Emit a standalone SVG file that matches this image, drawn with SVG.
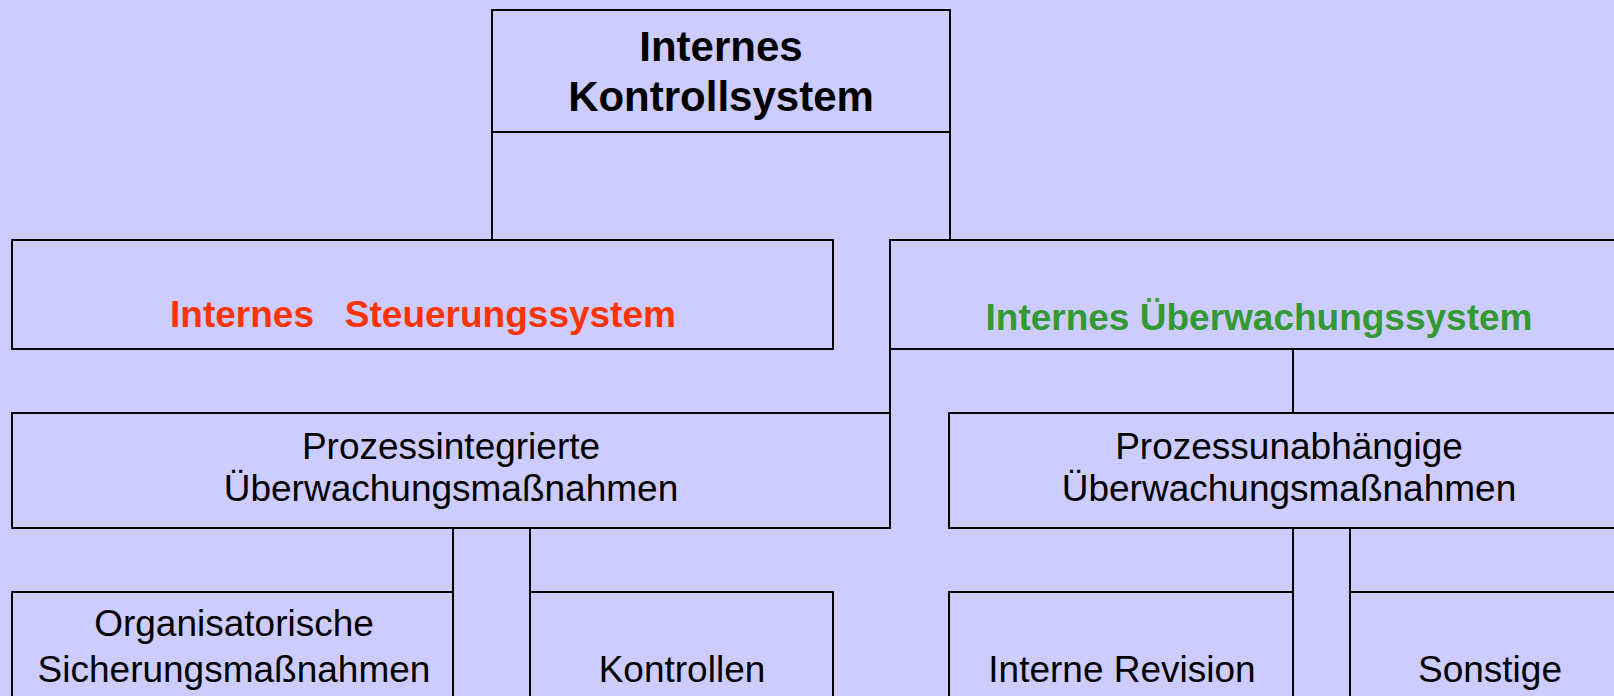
<svg xmlns="http://www.w3.org/2000/svg" width="1614" height="696" viewBox="0 0 1614 696">
<style>
.box{fill:#CCCCFF;stroke:#000;stroke-width:2}
.con{stroke:#000;stroke-width:2;fill:none}
text{font-family:"Liberation Sans",Arial,sans-serif;text-anchor:middle;fill:#000}
.t1{font-size:42px;font-weight:bold}
.t2{font-size:37px;font-weight:bold}
.t3{font-size:37px}
</style>
<rect x="0" y="0" width="1614" height="696" fill="#CCCCFF"/>
<g id="connectors">
<line class="con" x1="492" y1="132" x2="492" y2="240"/>
<line class="con" x1="950" y1="132" x2="950" y2="240"/>
<line class="con" x1="890" y1="349" x2="890" y2="413"/>
<line class="con" x1="1293" y1="349" x2="1293" y2="413"/>
<line class="con" x1="453" y1="528" x2="453" y2="592"/>
<line class="con" x1="530" y1="528" x2="530" y2="592"/>
<line class="con" x1="1293" y1="528" x2="1293" y2="592"/>
<line class="con" x1="1350" y1="528" x2="1350" y2="592"/>
</g>
<g id="iks">
<rect class="box" x="492" y="10" width="458" height="122"/>
<text class="t1" x="721" y="61">Internes</text>
<text class="t1" x="721" y="111">Kontrollsystem</text>
</g>
<g id="steuerung">
<rect class="box" x="12" y="240" width="821" height="109"/>
<text class="t2" x="423" y="327" style="fill:#FF3300;white-space:pre" xml:space="preserve">Internes   Steuerungssystem</text>
</g>
<g id="ueberwachung">
<rect class="box" x="890" y="240" width="740" height="109"/>
<text class="t2" x="1259" y="330" style="fill:#339933">Internes Überwachungssystem</text>
</g>
<g id="prozessintegriert">
<rect class="box" x="12" y="413" width="878" height="115"/>
<text class="t3" x="451" y="459">Prozessintegrierte</text>
<text class="t3" x="451" y="501">Überwachungsmaßnahmen</text>
</g>
<g id="prozessunabhaengig">
<rect class="box" x="949" y="413" width="680" height="115"/>
<text class="t3" x="1289" y="459">Prozessunabhängige</text>
<text class="t3" x="1289" y="501">Überwachungsmaßnahmen</text>
</g>
<g id="organisatorisch">
<rect class="box" x="12" y="592" width="441" height="130"/>
<text class="t3" x="234" y="636">Organisatorische</text>
<text class="t3" x="234" y="682">Sicherungsmaßnahmen</text>
</g>
<g id="kontrollen">
<rect class="box" x="530" y="592" width="303" height="130"/>
<text class="t3" x="682" y="682">Kontrollen</text>
</g>
<g id="revision">
<rect class="box" x="949" y="592" width="344" height="130"/>
<text class="t3" x="1122" y="682">Interne Revision</text>
</g>
<g id="sonstige">
<rect class="box" x="1350" y="592" width="280" height="130"/>
<text class="t3" x="1490" y="682">Sonstige</text>
</g>
</svg>
